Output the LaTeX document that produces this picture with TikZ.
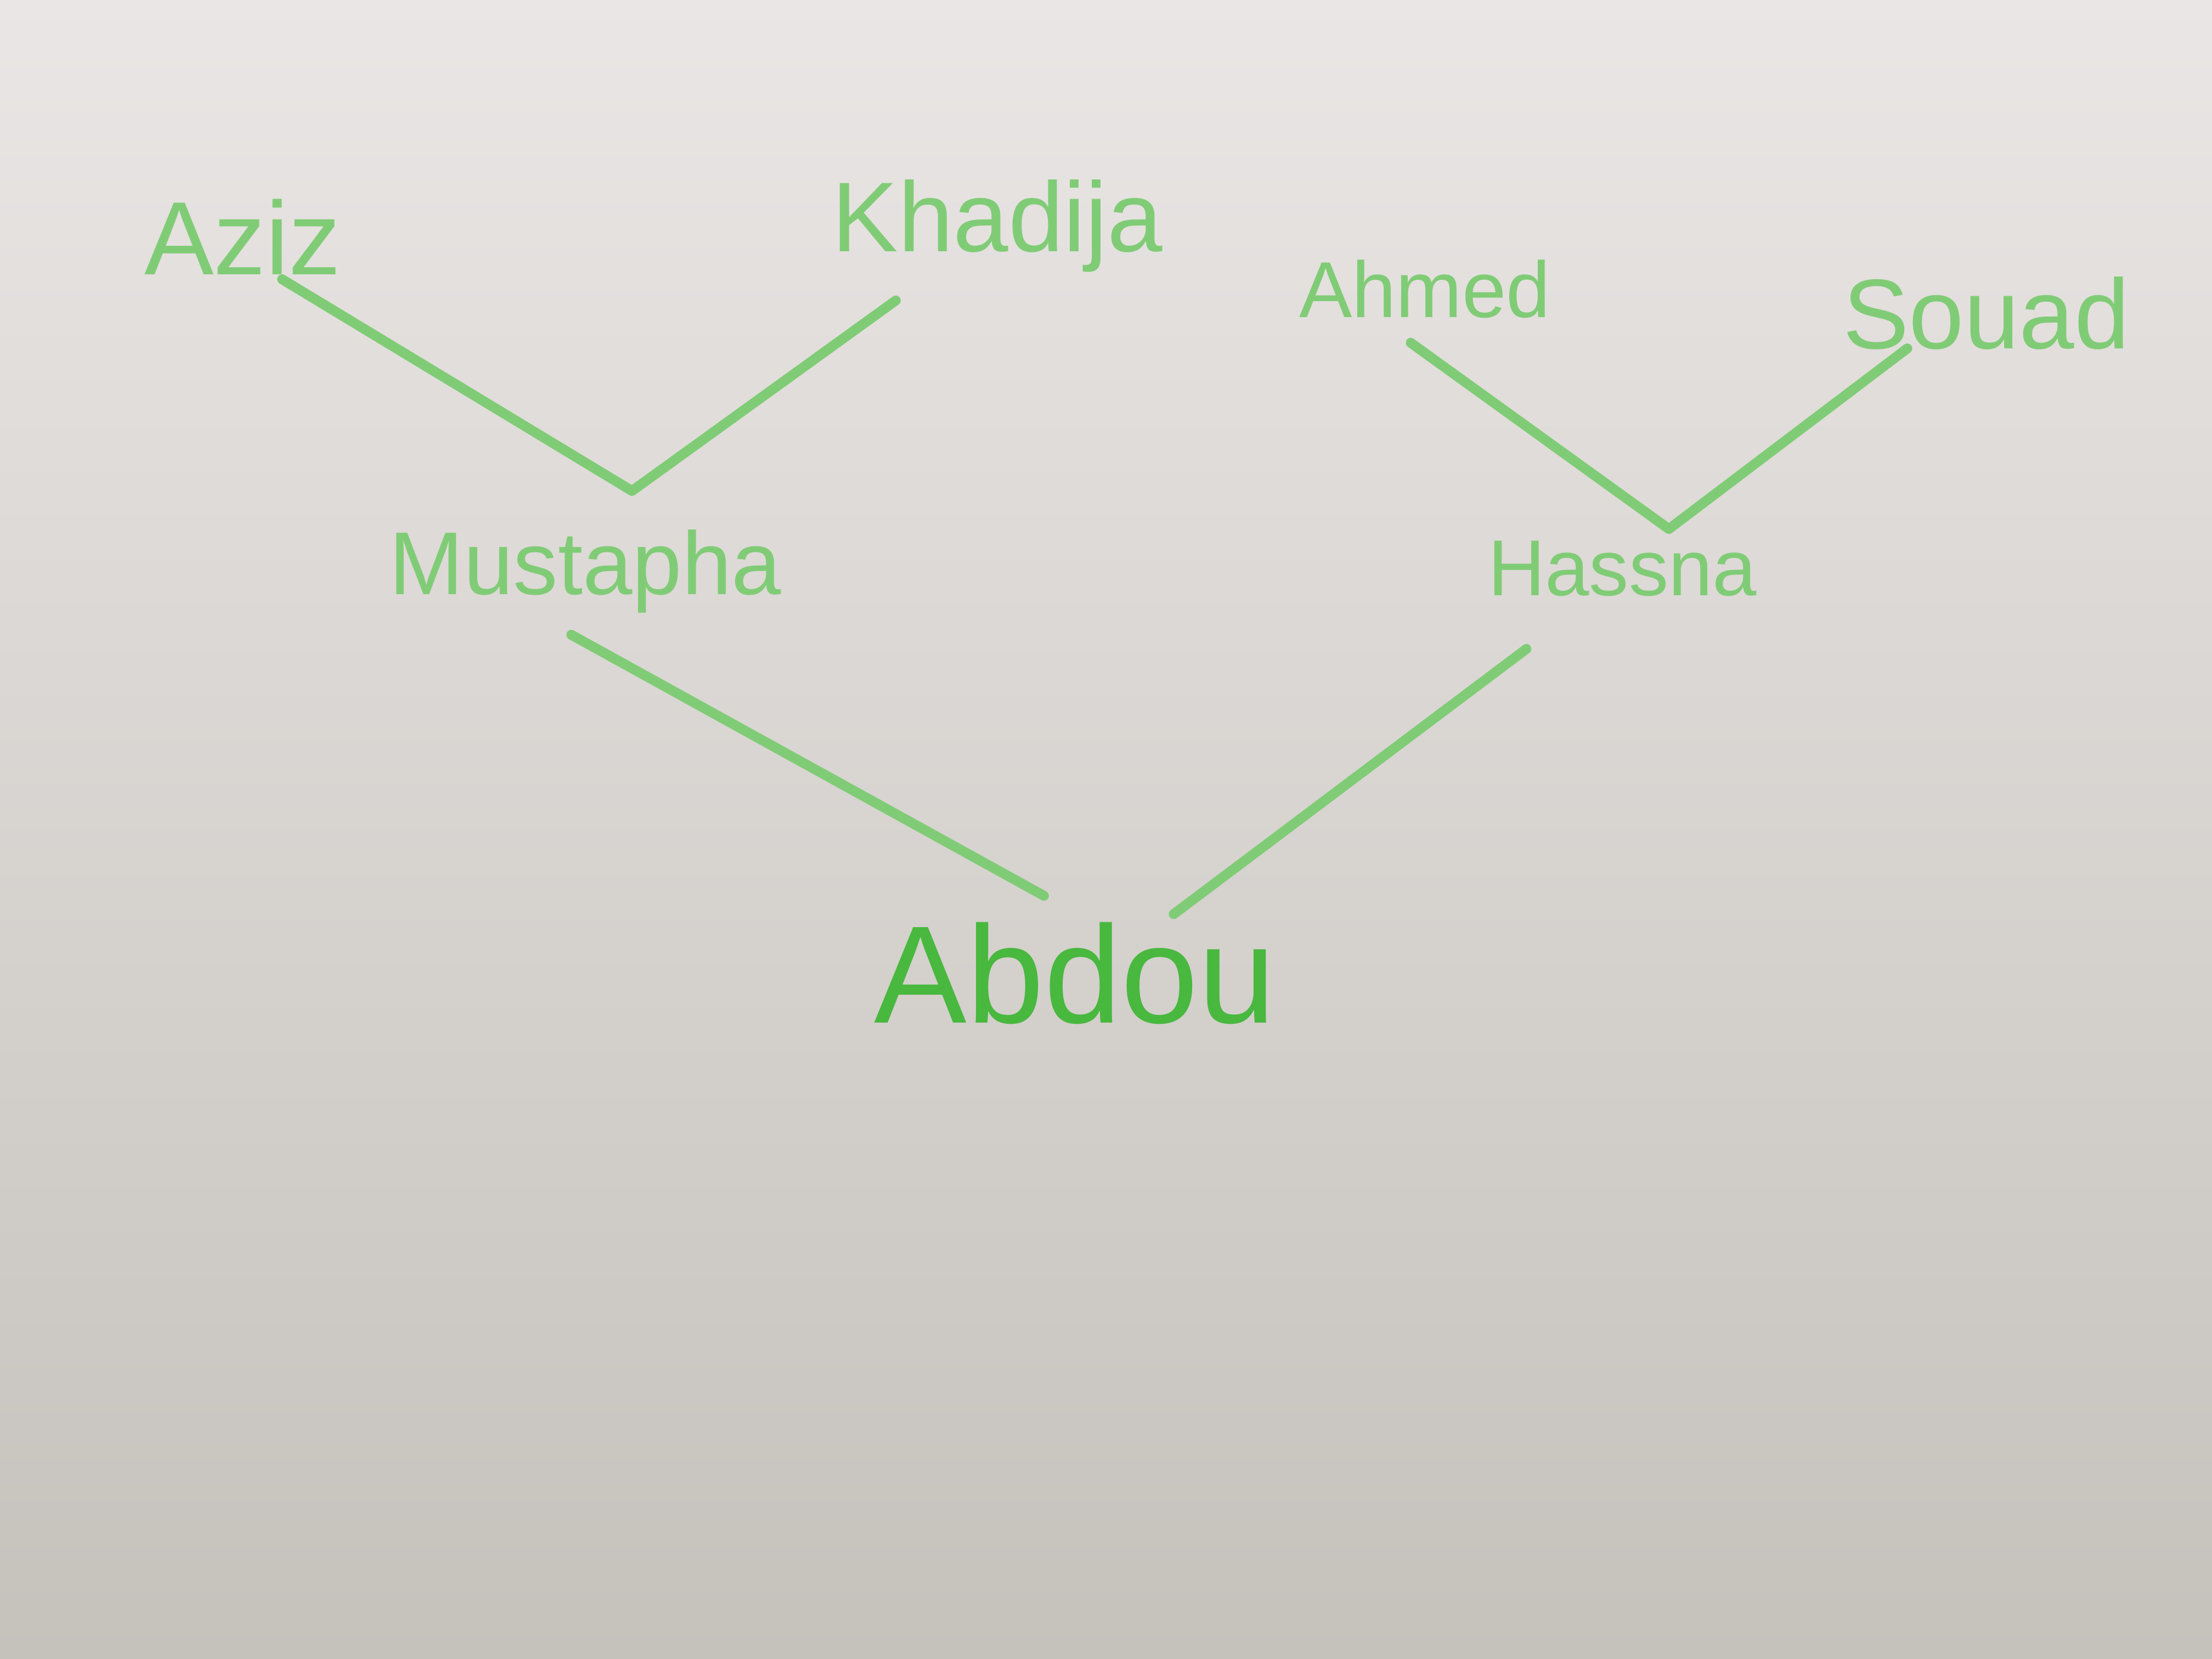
\documentclass[tikz,border=0pt]{standalone}
\usepackage{fontspec}
\setmainfont{Liberation Sans}
\usepackage{tikz}
\usetikzlibrary{positioning}
\definecolor{marker}{RGB}{128,204,118}
\definecolor{darkmarker}{RGB}{72,184,62}
\definecolor{boardtop}{RGB}{234,230,229}
\definecolor{boardbottom}{RGB}{197,193,187}
\tikzset{
    person/.style={
           text=marker,
           inner sep=1pt,
           font=\fontsize{#1}{#1}\selectfont,
           },
    person/.default=20,
    link/.style={
           draw=marker,
           line width=2pt,
           line cap=round,
           line join=round,
           },
}

\begin{document}
\begin{tikzpicture}

 % whiteboard
 \fill[top color=boardtop, bottom color=boardbottom]
   (0,0) rectangle (15.68,-11.76);
 \useasboundingbox (0,0) rectangle (15.68,-11.76);

 % grandparents
 \node[person=21] (AZIZ)    at (1.72,-1.68)  {Aziz};
 \node[person=20] (KHADIJA) at (7.07,-1.60)  {Khadija};
 \node[person=16] (AHMED)   at (10.10,-2.05) {Ahmed};
 \node[person=20] (SOUAD)   at (14.08,-2.22) {Souad};

 % parents
 \node[person=18] (MUSTAPHA) at (4.15,-4.05) {Mustapha};
 \node[person=16] (HASSNA)   at (11.50,-4.03) {Hassna};

 % child
 \node[person=28, text=darkmarker] (ABDOU) at (7.62,-6.90) {Abdou};

 % where the branches meet
 \coordinate (MJOIN) at (4.48,-3.48);
 \coordinate (HJOIN) at (11.83,-3.75);

 % branches
 \draw[link] ([shift={(0.28,-0.30)}]AZIZ.center) -- (MJOIN)
             -- ([shift={(-0.72,-0.53)}]KHADIJA.center);
 \draw[link] ([shift={(-0.10,-0.38)}]AHMED.center) -- (HJOIN)
             -- ([shift={(-0.56,-0.25)}]SOUAD.center);
 \draw[link] ([shift={(-0.10,-0.45)}]MUSTAPHA.center)
             -- ([shift={(-0.22,0.55)}]ABDOU.center);
 \draw[link] ([shift={(-0.68,-0.57)}]HASSNA.center)
             -- ([shift={(0.70,0.42)}]ABDOU.center);

\end{tikzpicture}
\end{document}
